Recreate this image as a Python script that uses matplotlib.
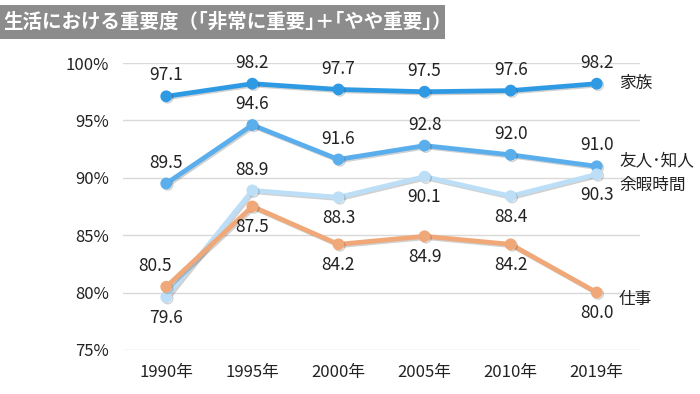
import matplotlib.pyplot as plt
import matplotlib.patheffects as pe
from matplotlib.patches import Rectangle

plt.rcParams['font.family'] = ['Noto Sans CJK JP', 'DejaVu Sans']

years = ["1990年", "1995年", "2000年", "2005年", "2010年", "2019年"]
family = [97.1, 98.2, 97.7, 97.5, 97.6, 98.2]
friends = [89.5, 94.6, 91.6, 92.8, 92.0, 91.0]
leisure = [79.6, 88.9, 88.3, 90.1, 88.4, 90.3]
work = [80.5, 87.5, 84.2, 84.9, 84.2, 80.0]

# label placement per point: 1 = above, -1 = below
family_pos = [1, 1, 1, 1, 1, 1]
friends_pos = [1, 1, 1, 1, 1, 1]
leisure_pos = [-1, 1, -1, -1, -1, -1]
work_pos = [1, -1, -1, -1, -1, -1]

series = [
    ("家族", family, family_pos, "#2F9AE4", 0),
    ("友人･知人", friends, friends_pos, "#5BAEEC", 4),
    ("余暇時間", leisure, leisure_pos, "#BCDFF7", -8),
    ("仕事", work, work_pos, "#F0A878", -5),
]

fig = plt.figure(figsize=(7, 3.94), dpi=100)
ax = fig.add_axes([0.176, 0.112, 0.738, 0.728])

x = range(len(years))
shadow = [pe.SimpleLineShadow(offset=(1, -1), alpha=0.18), pe.Normal()]
for name, vals, pos, color, name_dy in series:
    ax.plot(x, vals, color=color, lw=3.4, marker="o", ms=7.5, zorder=3,
            path_effects=shadow)
    for i, (v, p) in enumerate(zip(vals, pos)):
        dx = -8 if (name == "仕事" and i == 0) else 0
        ax.annotate(f"{v:.1f}", (i, v), xytext=(dx, 15 * p), textcoords="offset points",
                    ha="center", va="center", fontsize=12.5, color="#222222")
    ax.annotate(name, (len(years) - 1, vals[-1]), xytext=(16, name_dy),
                textcoords="offset points", ha="left", va="center",
                fontsize=12, color="#222222")

ax.set_xlim(-0.5, 5.5)
ax.set_ylim(75, 100)
ax.set_yticks([75, 80, 85, 90, 95, 100])
ax.set_yticklabels([f"{t}%" for t in [75, 80, 85, 90, 95, 100]])
ax.set_xticks(list(x))
ax.set_xticklabels(years)
ax.tick_params(length=0, labelsize=12, colors="#222222", pad=10)
ax.grid(axis="y", color="#D9D9D9", lw=1)
ax.set_axisbelow(True)
for s in ax.spines.values():
    s.set_visible(False)

# title bar
fig.patches.append(Rectangle((0, 0.9), 0.636, 0.088, transform=fig.transFigure,
                             facecolor="#8C8C8C", edgecolor="none"))
fig.text(0.005, 0.944, "生活における重要度（｢非常に重要｣＋｢やや重要｣）", color="white",
         fontsize=14, fontweight="bold", va="center", ha="left")

fig.savefig("out.png", dpi=100)
